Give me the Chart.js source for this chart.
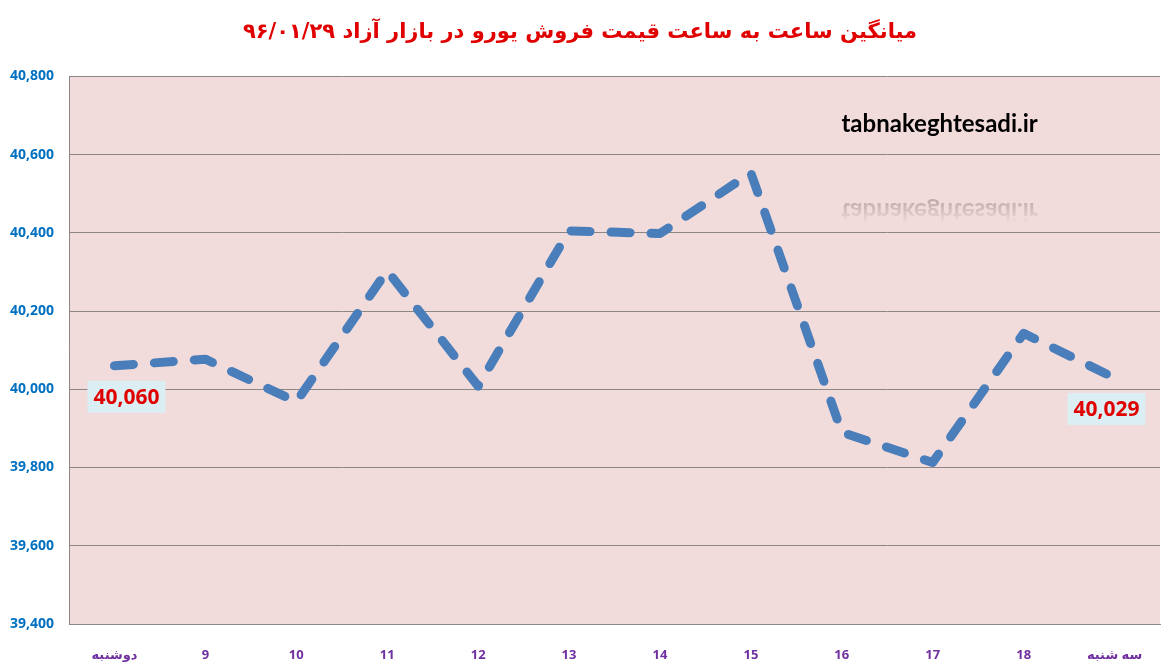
<!DOCTYPE html>
<html>
<head>
<meta charset="utf-8">
<script src="https://cdn.jsdelivr.net/npm/chart.js@4"></script>
<style>
    html, body { margin: 0; padding: 0; background: #fff; }
    #wrap { width: 1170px; height: 666px; }
</style>
</head>
<body>
<div id="wrap"><canvas id="euro__chart"></canvas></div>
<script>
var hours = ['دوشنبه', '9', '10', '11', '12', '13', '14', '15', '16', '17', '18', 'سه شنبه'];
var prices = [40060, 40077, 39968, 40303, 40008, 40405, 40398, 40553, 39890, 39813, 40143, 40029];
var yTicks = [39400, 39600, 39800, 40000, 40200, 40400, 40600, 40800];
var labelled = [0, 11];
var titleText = 'میانگین ساعت به ساعت قیمت فروش یورو در بازار آزاد ۹۶/۰۱/۲۹';
var siteName = 'tabnakeghtesadi.ir';

function fmt(v) {
    return v.toLocaleString('en-US');
}

// pink plot area
var plotBg = {
    id: 'plotBg',
    beforeDraw: function (chart) {
        var a = chart.chartArea, ctx = chart.ctx;
        ctx.save();
        ctx.fillStyle = '#F2DCDB';
        ctx.fillRect(a.left, a.top, a.right - a.left, a.bottom - a.top);
        ctx.restore();
    }
};

// site name + its faded reflection
var watermark = {
    id: 'watermark',
    beforeDatasetsDraw: function (chart) {
        var a = chart.chartArea, ctx = chart.ctx;
        var x = a.left + (a.right - a.left) * 0.798;
        var base = a.top + (a.bottom - a.top) * 0.102;
        var rbase = a.top + (a.bottom - a.top) * 0.232;
        ctx.save();
        ctx.font = 'bold 24px Lato, "Open Sans", sans-serif';
        ctx.textAlign = 'center';
        ctx.textBaseline = 'alphabetic';
        ctx.fillStyle = '#000';
        ctx.fillText(siteName, x, base);

        ctx.translate(x, rbase);
        ctx.scale(1, -1);
        var g = ctx.createLinearGradient(0, 6, 0, -17);
        g.addColorStop(0, 'rgba(80,60,60,0.35)');
        g.addColorStop(1, 'rgba(80,60,60,0.04)');
        ctx.fillStyle = g;
        ctx.fillText(siteName, 0, 0);
        ctx.restore();
    }
};

// boxed value labels for first and last point
var valueBoxes = {
    id: 'valueBoxes',
    afterDatasetsDraw: function (chart) {
        var ctx = chart.ctx, meta = chart.getDatasetMeta(0);
        ctx.save();
        ctx.font = 'bold 21px "Open Sans", Lato, sans-serif';
        ctx.textAlign = 'center';
        ctx.textBaseline = 'middle';
        labelled.forEach(function (i) {
            var pt = meta.data[i];
            var txt = fmt(prices[i]);
            var w = ctx.measureText(txt).width + 12;
            var h = 32;
            var cx = pt.x + (i === 0 ? 12 : -8);
            var cy = pt.y + 31;
            ctx.fillStyle = '#DBEEF4';
            ctx.fillRect(cx - w / 2, cy - h / 2, w, h);
            ctx.fillStyle = '#E00000';
            ctx.fillText(txt, cx, cy + 1);
        });
        ctx.restore();
    }
};

var ctx = document.getElementById('euro__chart').getContext('2d');
var euroChart = new Chart(ctx, {
    type: 'line',
    data: {
        labels: hours,
        datasets: [{
            data: prices,
            borderColor: '#4A7EBB',
            borderWidth: 9,
            borderDash: [19, 21],
            borderCapStyle: 'round',
            borderJoinStyle: 'round',
            tension: 0,
            pointRadius: 0,
            fill: false
        }]
    },
    options: {
        responsive: true,
        maintainAspectRatio: false,
        animation: false,
        layout: {
            padding: { left: 0, right: 10, top: 0, bottom: 0 }
        },
        plugins: {
            legend: { display: false },
            tooltip: { enabled: false },
            title: {
                display: true,
                text: titleText,
                color: '#E00000',
                font: { family: '"DejaVu Sans", sans-serif', size: 21, weight: 'bold', lineHeight: 1.3 },
                padding: { top: 19, bottom: 30 }
            }
        },
        scales: {
            x: {
                offset: true,
                grid: { display: false },
                border: { display: true, color: '#8C8686', width: 1 },
                ticks: {
                    color: '#7030A0',
                    padding: 15,
                    maxRotation: 0,
                    font: { family: '"Open Sans", "DejaVu Sans", sans-serif', size: 13, weight: 'bold' }
                },
                afterFit: function (scale) { scale.height = 42; }
            },
            y: {
                min: yTicks[0],
                max: yTicks[yTicks.length - 1],
                grid: { color: '#8C8686', lineWidth: 1, drawTicks: false },
                border: { display: true, color: '#8C8686', width: 1 },
                ticks: {
                    stepSize: yTicks[1] - yTicks[0],
                    color: '#0070C0',
                    padding: 15,
                    font: { family: '"Open Sans", Lato, sans-serif', size: 14, weight: 'bold' },
                    callback: function (v) { return fmt(v); }
                },
                afterFit: function (scale) { scale.width = 69; }
            }
        }
    },
    plugins: [plotBg, watermark, valueBoxes]
});
</script>
</body>
</html>
